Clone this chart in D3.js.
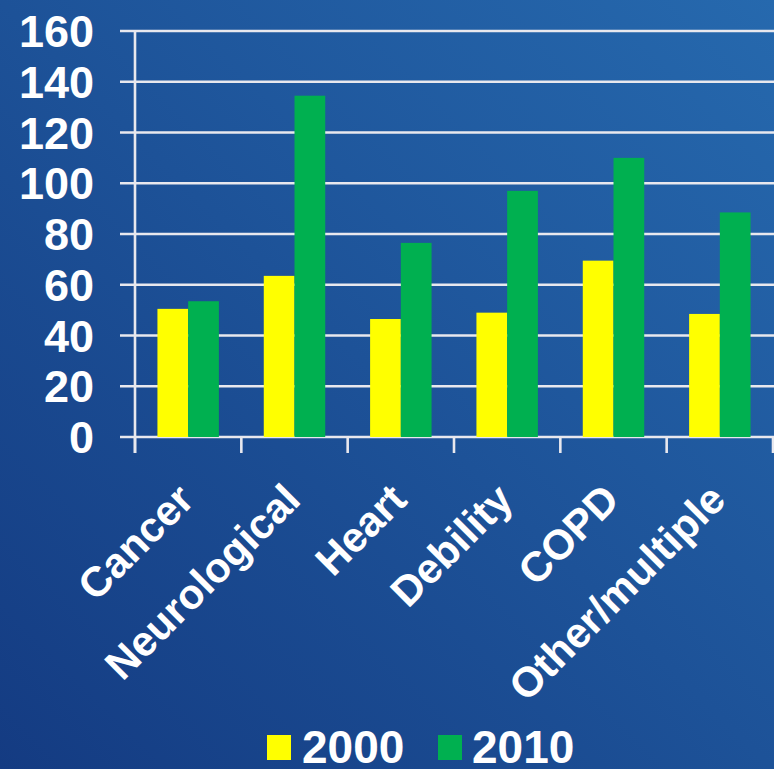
<!DOCTYPE html>
<html>
<head>
<meta charset="utf-8">
<script src="https://cdn.jsdelivr.net/npm/d3@7"></script>
<style>
  html, body { margin: 0; padding: 0; background: #1d4f96; }
  svg { display: block; }
  text { font-family: "Liberation Sans", Arial, sans-serif; font-weight: bold; fill: #fff; }
</style>
</head>
<body>
<svg id="chart" width="774" height="769"></svg>
<script>
// data
const categories = ["Cancer", "Neurological", "Heart", "Debility", "COPD", "Other/multiple"];
const seriesNames = ["2000", "2010"];
const values2000 = [50.5, 63.5, 46.5, 49, 69.5, 48.5];
const values2010 = [53.5, 134.5, 76.5, 97, 110, 88.5];
const yTicks = [0, 20, 40, 60, 80, 100, 120, 140, 160];
const seriesColors = ["#ffff00", "#00b050"];

const W = 774, H = 769;
const svg = d3.select("#chart");

// background gradient, dark bottom-left to lighter top-right
const defs = svg.append("defs");
const grad = defs.append("linearGradient")
  .attr("id", "bg")
  .attr("x1", "0%").attr("y1", "100%")
  .attr("x2", "100%").attr("y2", "0%");
grad.append("stop").attr("offset", "0%").attr("stop-color", "#143b82");
grad.append("stop").attr("offset", "100%").attr("stop-color", "#2669ae");
svg.append("rect").attr("width", W).attr("height", H).attr("fill", "url(#bg)");

const plot = { left: 135, right: 773, top: 31, bottom: 437 };

const x0 = d3.scaleBand()
  .domain(categories)
  .range([plot.left, plot.right])
  .paddingInner(0)
  .paddingOuter(0);

const x1 = d3.scaleBand()
  .domain(seriesNames)
  .range([0, x0.bandwidth()])
  .paddingInner(0)
  .paddingOuter(0.73);

const y = d3.scaleLinear()
  .domain([0, 160])
  .range([plot.bottom, plot.top]);

const color = d3.scaleOrdinal().domain(seriesNames).range(seriesColors);

// gridlines (with the little tick stub left of the axis)
svg.append("g")
  .selectAll("line")
  .data(yTicks)
  .enter()
  .append("line")
  .attr("x1", plot.left - 15)
  .attr("x2", W)
  .attr("y1", d => y(d))
  .attr("y2", d => y(d))
  .attr("stroke", "#e8e8ee")
  .attr("stroke-width", 2.6);

// y labels
svg.append("g")
  .selectAll("text")
  .data(yTicks)
  .enter()
  .append("text")
  .attr("x", 94)
  .attr("y", d => y(d))
  .attr("dy", "0.36em")
  .attr("text-anchor", "end")
  .style("font-size", "45px")
  .text(d => d);

// bars
const rows = categories.map((c, i) => ({ cat: c, vals: [values2000[i], values2010[i]] }));

svg.append("g")
  .selectAll("g")
  .data(rows)
  .enter()
  .append("g")
  .attr("transform", d => `translate(${x0(d.cat)},0)`)
  .selectAll("rect")
  .data(d => d.vals.map((v, j) => ({ key: seriesNames[j], value: v })))
  .enter()
  .append("rect")
  .attr("x", d => x1(d.key))
  .attr("width", x1.bandwidth())
  .attr("y", d => y(d.value))
  .attr("height", d => y(0) - y(d.value))
  .attr("fill", d => color(d.key));

// y axis line
svg.append("line")
  .attr("x1", plot.left).attr("x2", plot.left)
  .attr("y1", plot.top).attr("y2", plot.bottom + 16)
  .attr("stroke", "#e8e8ee")
  .attr("stroke-width", 2.6);

// x axis ticks at band edges
const edges = categories.map(c => x0(c)).concat([x0(categories[categories.length - 1]) + x0.bandwidth()]);
svg.append("g")
  .selectAll("line")
  .data(edges)
  .enter()
  .append("line")
  .attr("x1", d => d).attr("x2", d => d)
  .attr("y1", plot.bottom).attr("y2", plot.bottom + 16)
  .attr("stroke", "#e8e8ee")
  .attr("stroke-width", 2.6);

// rotated category labels
svg.append("g")
  .selectAll("text")
  .data(categories)
  .enter()
  .append("text")
  .attr("text-anchor", "end")
  .attr("transform", d => `translate(${x0(d) + x0.bandwidth() / 2 + 8},502) rotate(-45)`)
  .style("font-size", "42px")
  .text(d => d);

// legend
const legendItems = [
  { name: seriesNames[0], sx: 267, tx: 302 },
  { name: seriesNames[1], sx: 438, tx: 472 }
];
const legend = svg.append("g");
legend.selectAll("rect")
  .data(legendItems)
  .enter()
  .append("rect")
  .attr("x", d => d.sx)
  .attr("y", 735)
  .attr("width", 24)
  .attr("height", 25)
  .attr("fill", d => color(d.name));
legend.selectAll("text")
  .data(legendItems)
  .enter()
  .append("text")
  .attr("x", d => d.tx)
  .attr("y", 763)
  .style("font-size", "46px")
  .text(d => d.name);
</script>
</body>
</html>
